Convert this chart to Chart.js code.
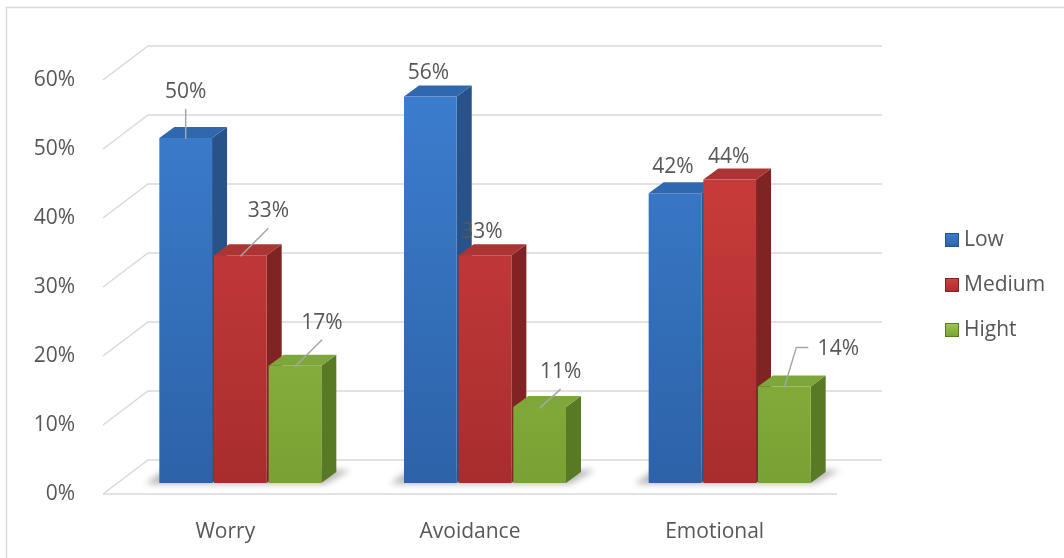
<!DOCTYPE html>
<html>
<head>
<meta charset="utf-8">
<script src="https://cdn.jsdelivr.net/npm/chart.js@4.4.0/dist/chart.umd.min.js"></script>
<style>
  html, body { margin: 0; padding: 0; background: #fff; }
  canvas { display: block; }
</style>
</head>
<body>
<canvas id="chart" width="1064" height="558"></canvas>
<script>
// data
const categories = ["Worry", "Avoidance", "Emotional"];
const seriesNames = ["Low", "Medium", "Hight"];
const lowValues = [50, 56, 42];
const mediumValues = [33, 33, 44];
const highValues = [17, 11, 14];
const yMin = 0;
const yMax = 60;
const yStep = 10;

// look
const textColor = "#575757";
const gridColor = "#d9d9d9";
const fontFamily = "'Open Sans', 'Noto Sans', sans-serif";
const fontSize = 21;
const depth = { dx: 15, dy: -11 };   // bar depth
const wall = { dx: 45, dy: -34 };    // back wall offset
const faces = [
  { hi: "#3c7fd0", lo: "#2d62a8", lid: "#3068b0", side: "#28528a" },
  { hi: "#d2413f", lo: "#a82d2d", lid: "#ab3434", side: "#7f2323" },
  { hi: "#9dca4d", lo: "#79a133", lid: "#7ea73b", side: "#587a25" }
];

function frontGradient(i) {
  return function (context) {
    const area = context.chart.chartArea;
    if (!area) return faces[i].hi;
    const g = context.chart.ctx.createLinearGradient(0, area.top, 0, area.bottom);
    g.addColorStop(0, faces[i].hi);
    g.addColorStop(1, faces[i].lo);
    return g;
  };
}

function poly(ctx, pts, fill) {
  ctx.beginPath();
  ctx.moveTo(pts[0][0], pts[0][1]);
  for (let k = 1; k < pts.length; k++) ctx.lineTo(pts[k][0], pts[k][1]);
  ctx.closePath();
  ctx.fillStyle = fill;
  ctx.fill();
}

const threeD = {
  id: "threeD",
  beforeDraw(chart) {
    const ctx = chart.ctx;
    ctx.save();
    ctx.strokeStyle = gridColor;
    ctx.lineWidth = 1.5;
    ctx.strokeRect(6.5, 7.5, 1200, 700);
    ctx.restore();
  },
  beforeDatasetsDraw(chart) {
    const ctx = chart.ctx;
    const a = chart.chartArea;
    const y = chart.scales.y;
    ctx.save();
    ctx.strokeStyle = gridColor;
    ctx.lineWidth = 1.5;
    y.ticks.forEach(function (t) {
      const py = y.getPixelForValue(t.value);
      ctx.beginPath();
      ctx.moveTo(a.left, py);
      ctx.lineTo(a.left + wall.dx, py + wall.dy);
      ctx.lineTo(a.right + wall.dx, py + wall.dy);
      ctx.stroke();
    });
    ctx.beginPath();
    ctx.moveTo(a.left, a.bottom);
    ctx.lineTo(a.right, a.bottom);
    ctx.stroke();

    // soft shadows on the floor
    const first = chart.getDatasetMeta(0).data;
    const last = chart.getDatasetMeta(chart.data.datasets.length - 1).data;
    ctx.filter = "blur(3px)";
    first.forEach(function (bar, j) {
      const l = bar.x - bar.width / 2 + depth.dx;
      const r = last[j].x + last[j].width / 2 + depth.dx;
      const b = bar.base + depth.dy;
      poly(ctx, [[l - 14, b + 1], [r + 4, b + 1], [r + depth.dx + 14, b + depth.dy - 2], [l + depth.dx - 10, b + depth.dy - 2]], "rgba(0,0,0,0.28)");
    });
    ctx.filter = "none";
    ctx.restore();

    // sides and lids first, the library then paints the front faces over them
    ctx.save();
    ctx.translate(depth.dx, depth.dy);
    chart.data.datasets.forEach(function (ds, i) {
      const c = faces[i];
      chart.getDatasetMeta(i).data.forEach(function (bar) {
        const x1 = bar.x - bar.width / 2;
        const x2 = bar.x + bar.width / 2;
        const top = bar.y;
        const bot = bar.base;
        poly(ctx, [[x2, top], [x2 + depth.dx, top + depth.dy], [x2 + depth.dx, bot + depth.dy], [x2, bot]], c.side);
        poly(ctx, [[x1, top], [x2, top], [x2 + depth.dx, top + depth.dy], [x1 + depth.dx, top + depth.dy]], c.lid);
      });
    });
  },
  afterDatasetsDraw(chart, args, opts) {
    const ctx = chart.ctx;
    ctx.restore();
    ctx.save();
    ctx.font = fontSize + "px " + fontFamily;
    ctx.textAlign = "center";
    ctx.textBaseline = "middle";
    chart.data.datasets.forEach(function (ds, i) {
      chart.getDatasetMeta(i).data.forEach(function (bar, j) {
        const off = opts.placement[i][j];
        const cx = bar.x + depth.dx;
        const ty = bar.y + depth.dy;
        const tx = cx + off[0];
        const tyy = ty + off[1];
        if (Math.hypot(off[0], off[1]) > 35) {
          ctx.strokeStyle = "#a6a6a6";
          ctx.lineWidth = 1.5;
          ctx.beginPath();
          if (off[0] > 40) {
            ctx.moveTo(tx - 30, tyy - 2);
            ctx.lineTo(tx - 42, tyy - 2);
          } else {
            ctx.moveTo(tx, tyy + 17);
          }
          ctx.lineTo(cx, ty + 1);
          ctx.stroke();
        }
        ctx.fillStyle = textColor;
        ctx.fillText(ds.data[j] + "%", tx, tyy);
      });
    });
    ctx.restore();
  },
  afterDraw(chart) {
    const ctx = chart.ctx;
    ctx.save();
    ctx.font = fontSize + "px " + fontFamily;
    ctx.textBaseline = "middle";
    chart.data.datasets.forEach(function (ds, i) {
      const yy = 240 + i * 45;
      const g = ctx.createLinearGradient(0, yy - 7, 0, yy + 7);
      g.addColorStop(0, faces[i].hi);
      g.addColorStop(1, faces[i].lo);
      ctx.fillStyle = g;
      ctx.fillRect(945, yy - 7, 14, 14);
      ctx.strokeStyle = faces[i].side;
      ctx.lineWidth = 1;
      ctx.strokeRect(945.5, yy - 6.5, 13, 13);
      ctx.fillStyle = textColor;
      ctx.fillText(ds.label, 964, yy);
    });
    ctx.restore();
  }
};

const values = [lowValues, mediumValues, highValues];
const datasets = seriesNames.map(function (name, i) {
  return {
    label: name,
    data: values[i],
    backgroundColor: frontGradient(i),
    borderWidth: 0,
    categoryPercentage: 0.67,
    barPercentage: 0.965,
    clip: false
  };
});

new Chart(document.getElementById("chart"), {
  type: "bar",
  data: { labels: categories, datasets: datasets },
  options: {
    responsive: false,
    animation: false,
    layout: { padding: { top: 80, left: 0, right: 227, bottom: 0 } },
    scales: {
      x: {
        grid: { display: false },
        border: { display: false },
        ticks: { color: textColor, font: { family: fontFamily, size: fontSize }, padding: 17 },
        afterFit: function (scale) { scale.height = 64; }
      },
      y: {
        min: yMin,
        max: yMax,
        grid: { display: false },
        border: { display: false },
        ticks: {
          stepSize: yStep,
          color: textColor,
          font: { family: fontFamily, size: fontSize },
          padding: 20,
          callback: function (v) { return v + "%"; }
        },
        afterFit: function (scale) { scale.width = 103; }
      }
    },
    plugins: {
      legend: { display: false },
      tooltip: { enabled: false },
      threeD: {
        placement: [
          [[0, -46], [-2, -24], [-2, -26]],
          [[28, -44], [-3, -23], [-1, -22]],
          [[27, -43], [21, -35], [54, -37]]
        ]
      }
    }
  },
  plugins: [threeD]
});
</script>
</body>
</html>
